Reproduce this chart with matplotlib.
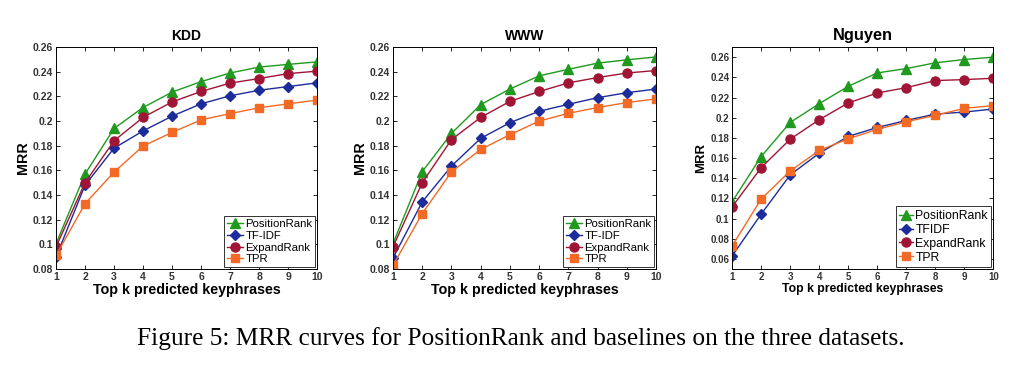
import matplotlib.pyplot as plt

# data
k = [1, 2, 3, 4, 5, 6, 7, 8, 9, 10]

kdd_position = [0.1005, 0.157, 0.194, 0.211, 0.2235, 0.232, 0.239, 0.2438, 0.246, 0.248]
kdd_tfidf = [0.0897, 0.148, 0.178, 0.192, 0.204, 0.214, 0.2205, 0.225, 0.228, 0.231]
kdd_expand = [0.098, 0.150, 0.184, 0.203, 0.2155, 0.224, 0.2308, 0.2345, 0.2385, 0.2405]
kdd_tpr = [0.091, 0.133, 0.1586, 0.1797, 0.1908, 0.201, 0.206, 0.2108, 0.214, 0.217]

www_position = [0.1006, 0.159, 0.190, 0.2134, 0.226, 0.2367, 0.242, 0.247, 0.2497, 0.252]
www_tfidf = [0.0889, 0.1345, 0.1635, 0.186, 0.1987, 0.208, 0.2136, 0.219, 0.223, 0.226]
www_expand = [0.098, 0.150, 0.185, 0.203, 0.216, 0.224, 0.231, 0.2353, 0.239, 0.241]
www_tpr = [0.083, 0.125, 0.1588, 0.177, 0.189, 0.200, 0.2063, 0.211, 0.215, 0.218]

ng_position = [0.1167, 0.1615, 0.1953, 0.2139, 0.2311, 0.2444, 0.2487, 0.2544, 0.2577, 0.260]
ng_tfidf = [0.063, 0.1044, 0.1433, 0.1648, 0.1814, 0.1903, 0.1973, 0.2036, 0.2056, 0.2086]
ng_expand = [0.1117, 0.1505, 0.1787, 0.198, 0.2146, 0.2245, 0.2298, 0.2368, 0.2378, 0.2391]
ng_tpr = [0.0729, 0.1194, 0.1472, 0.1675, 0.1791, 0.1884, 0.196, 0.2023, 0.2093, 0.212]

green = '#1f9a1f'
blue = '#1c2c9a'
red = '#a01535'
orange = '#f26a25'

plt.rcParams['font.family'] = ['Liberation Sans', 'DejaVu Sans']

fig = plt.figure(figsize=(10.24, 3.68), dpi=100)

panels = [
    ("KDD", [0.0547, 0.269, 0.255, 0.603], kdd_position, kdd_tfidf, kdd_expand, kdd_tpr,
     "TF-IDF", (0.08, 0.26), [0.08, 0.1, 0.12, 0.14, 0.16, 0.18, 0.2, 0.22, 0.24, 0.26]),
    ("WWW", [0.3838, 0.269, 0.257, 0.603], www_position, www_tfidf, www_expand, www_tpr,
     "TF-IDF", (0.08, 0.26), [0.08, 0.1, 0.12, 0.14, 0.16, 0.18, 0.2, 0.22, 0.24, 0.26]),
    ("Nguyen", [0.715, 0.269, 0.255, 0.603], ng_position, ng_tfidf, ng_expand, ng_tpr,
     "TFIDF", (0.05, 0.27), [0.06, 0.08, 0.1, 0.12, 0.14, 0.16, 0.18, 0.2, 0.22, 0.24, 0.26]),
]

for title, rect, pos, tf, exp, tpr, tfname, ylim, yticks in panels:
    ng = title == "Nguyen"
    ax = fig.add_axes(rect)
    ax.plot(k, pos, '-^', color=green, markersize=6.5, lw=1, label='PositionRank')
    ax.plot(k, tf, '-D', color=blue, markersize=5, lw=1, label=tfname)
    ax.plot(k, exp, '-o', color=red, markersize=6.5, lw=1, label='ExpandRank')
    ax.plot(k, tpr, '-s', color=orange, markersize=5.5, lw=1, label='TPR')
    ax.set_xlim(1, 10)
    ax.set_ylim(*ylim)
    ax.set_xticks(k)
    ax.set_yticks(yticks)
    ax.set_yticklabels(['%g' % v for v in yticks])
    ax.tick_params(direction='in', length=3, width=0.6, labelsize=7 if ng else 7.5, pad=2,
                   top=True, right=True, labelcolor='#333333')
    for lab in ax.get_xticklabels() + ax.get_yticklabels():
        lab.set_fontweight('bold')
    for s in ax.spines.values():
        s.set_linewidth(0.7)
    ax.set_title(title, fontsize=11.8 if ng else 10, fontweight='bold', pad=5)
    ax.set_xlabel('Top k predicted keyphrases', fontsize=8.8 if ng else 10.3,
                  fontweight='bold', labelpad=1)
    ax.set_ylabel('MRR', fontsize=9.5 if ng else 10.3, fontweight='bold', labelpad=2)
    leg = ax.legend(loc='lower right', fontsize=8.8 if ng else 8.2,
                    handlelength=1.1 if ng else 1.4, handletextpad=0.2,
                    borderpad=0.3 if ng else 0.25, labelspacing=0.15, borderaxespad=0.15,
                    fancybox=False, edgecolor='#333333', framealpha=1)
    leg.get_frame().set_linewidth(0.7)

fig.text(0.509, 0.08, 'Figure 5: MRR curves for PositionRank and baselines on the three datasets.',
         ha='center', va='center', fontsize=18.3, family='Liberation Serif')

fig.savefig('out.png', dpi=100)
